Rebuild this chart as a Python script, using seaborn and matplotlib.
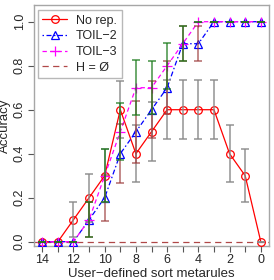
import numpy as np
import pandas as pd
import matplotlib
matplotlib.use("Agg")
import matplotlib.pyplot as plt
import seaborn as sns

# =====================
# DATA
# =====================

metarules = [14, 13, 12, 11, 10, 9, 8, 7, 6, 5, 4, 3, 2, 1, 0]

no_rep = [0, 0, 0.1, 0.2, 0.3, 0.6, 0.4, 0.5, 0.6, 0.6, 0.6, 0.6, 0.4, 0.3, 0]
no_rep_err = [0, 0, 0.08, 0.11, 0.12, 0.13, 0.13, 0.135, 0.135, 0.135, 0.135, 0.135, 0.13, 0.12, 0]

toil2 = [0, 0, 0, 0.1, 0.2, 0.4, 0.5, 0.6, 0.7, 0.9, 0.9, 1, 1, 1, 1]
toil2_err = [0, 0, 0, 0.08, 0.105, 0.135, 0.14, 0.13, 0.12, 0.08, 0.08, 0, 0, 0, 0]

toil3 = [0, 0, 0, 0.1, 0.3, 0.5, 0.7, 0.7, 0.8, 0.9, 1, 1, 1, 1, 1]
toil3_err = [0, 0, 0, 0.08, 0.12, 0.13, 0.125, 0.12, 0.105, 0.08, 0, 0, 0, 0, 0]

h_empty = 0

x_ticks = list(range(0, 15))
x_tick_labels = ["0", "", "2", "", "4", "", "6", "", "8", "", "10", "", "12", "", "14"]
y_ticks = [0.0, 0.2, 0.4, 0.6, 0.8, 1.0]
y_tick_labels = ["0.0", "0.2", "0.4", "0.6", "0.8", "1.0"]

df = pd.DataFrame({
    "metarules": metarules,
    "no_rep": no_rep,
    "toil2": toil2,
    "toil3": toil3,
})

# =====================
# STYLE
# =====================

sns.set_style("white")
plt.rcParams["font.family"] = ["Liberation Sans", "DejaVu Sans"]
plt.rcParams["font.size"] = 9

fig = plt.figure(figsize=(2.74, 2.80), dpi=100)
ax = fig.add_axes([0.124, 0.1214, 0.858, 0.8596])

box_gray = "#a6a6a6"

# =====================
# ERROR BARS
# =====================

ax.errorbar(df["metarules"], df["no_rep"], yerr=no_rep_err, fmt="none",
            ecolor="#8a8a8a", elinewidth=1.2, capsize=2.6, capthick=1.2,
            alpha=0.85, zorder=4)
ax.errorbar(df["metarules"], df["toil2"], yerr=toil2_err, fmt="none",
            ecolor="#9c3a3a", elinewidth=1.2, capsize=2.6, capthick=1.2,
            alpha=0.7, zorder=4)
ax.errorbar(df["metarules"], df["toil3"], yerr=toil3_err, fmt="none",
            ecolor="#1a7a1a", elinewidth=1.2, capsize=2.6, capthick=1.2,
            alpha=0.75, zorder=4)

# =====================
# LINES
# =====================

sns.lineplot(data=df, x="metarules", y="no_rep", ax=ax, color="red",
             marker="o", markersize=5.5, markerfacecolor="none",
             markeredgecolor="red", markeredgewidth=0.9, linewidth=0.9,
             label="No rep.", zorder=3)
sns.lineplot(data=df, x="metarules", y="toil2", ax=ax, color="blue",
             marker="^", markersize=6, markerfacecolor="none",
             markeredgecolor="blue", markeredgewidth=0.9, linewidth=0.9,
             label="TOIL\u22122", zorder=3)
sns.lineplot(data=df, x="metarules", y="toil3", ax=ax, color="magenta",
             marker="+", markersize=7, markeredgecolor="magenta",
             markeredgewidth=0.9, linewidth=0.9,
             label="TOIL\u22123", zorder=3)

ax.axhline(h_empty, color="#b04848", linewidth=0.9,
           label="H = \u00d8", zorder=2)

line_dashes = {
    "TOIL\u22122": [1.2, 2, 4, 2],
    "TOIL\u22123": [3.5, 2.5],
    "H = \u00d8": [5, 3.5],
}
for line in ax.get_lines():
    if line.get_label() in line_dashes:
        line.set_dashes(line_dashes[line.get_label()])

# =====================
# AXES
# =====================

ax.set_xlim(14.53, -0.53)
ax.set_ylim(-0.0195, 1.0745)

ax.set_xticks(x_ticks)
ax.set_xticklabels(x_tick_labels)
ax.set_yticks(y_ticks)
ax.set_yticklabels(y_tick_labels, rotation=90, va="center")

ax.tick_params(axis="both", direction="out", length=4, width=0.8,
               color="#555555", labelsize=9, pad=2, bottom=True, left=True)

for spine in ax.spines.values():
    spine.set_color(box_gray)
    spine.set_linewidth(1.0)

ax.set_xlabel("User\u2212defined sort metarules", fontsize=9.5, labelpad=1)
ax.set_ylabel("Accuracy", fontsize=9.5, labelpad=2)

# =====================
# LEGEND
# =====================

leg = ax.legend(loc="upper left", bbox_to_anchor=(0.017, 0.98),
                borderaxespad=0, fancybox=False, frameon=True,
                fontsize=9, handlelength=2.0, labelspacing=0.3,
                handletextpad=0.7, borderpad=0.35)
leg.get_frame().set_edgecolor(box_gray)
leg.get_frame().set_linewidth(1.0)

fig.savefig("out.png", dpi=100)
